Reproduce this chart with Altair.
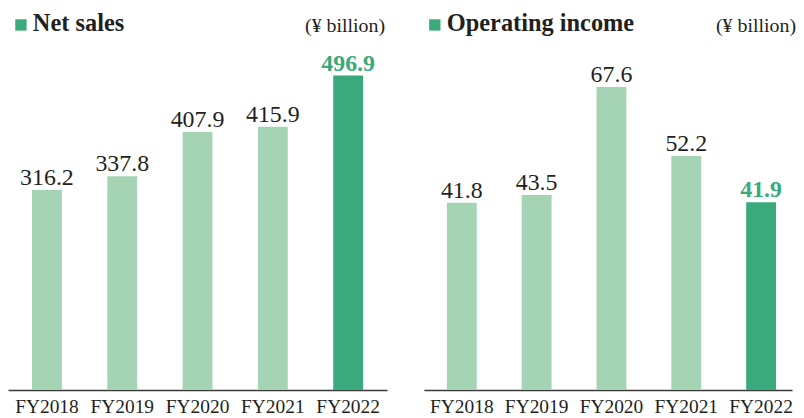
import altair as alt
import pandas as pd

years = ["FY2018", "FY2019", "FY2020", "FY2021", "FY2022"]
net_sales = [316.2, 337.8, 407.9, 415.9, 496.9]
operating_income = [41.8, 43.5, 67.6, 52.2, 41.9]

LIGHT = "#a4d4b4"
DARK = "#3aa97b"
TEXT = "#231f20"
SERIF = "Liberation Serif"
H = 383


def panel(values, title, ymax, width, title_x, unit_x, pad_outer, align):
    df = pd.DataFrame({"year": years, "value": values})
    df["label"] = [f"{v:.1f}" for v in values]
    xscale = alt.Scale(paddingInner=0.6, paddingOuter=pad_outer, align=align)
    x = alt.X("year:N", sort=years, scale=xscale,
              axis=alt.Axis(title=None, ticks=False, labelAngle=0, labelFont=SERIF,
                            labelFontSize=19.5, labelColor=TEXT, labelPadding=8,
                            domainColor="#3a3a3a", domainWidth=1.5, grid=False))
    y = alt.Y("value:Q", scale=alt.Scale(domain=[0, ymax], nice=False, zero=True), axis=None)
    base = alt.Chart(df).encode(x=x, y=y)
    bars = base.mark_bar(size=30).encode(
        color=alt.condition(alt.datum.year == "FY2022", alt.value(DARK), alt.value(LIGHT))
    )
    labels = base.transform_filter(alt.datum.year != "FY2022").mark_text(
        font=SERIF, fontSize=24, color=TEXT, baseline="alphabetic", dy=-5
    ).encode(text="label:N")
    latest = base.transform_filter(alt.datum.year == "FY2022").mark_text(
        font=SERIF, fontSize=24, fontWeight="bold", color=DARK, baseline="alphabetic", dy=-5
    ).encode(text="label:N")
    square = alt.Chart(pd.DataFrame({"k": [0]})).mark_square(
        size=130, color=DARK, opacity=1, filled=True
    ).encode(x=alt.value(title_x - 12), y=alt.value(16))
    ttl = alt.Chart(pd.DataFrame({"t": [title]})).mark_text(
        font=SERIF, fontSize=24.5, fontWeight="bold", color=TEXT, align="left", baseline="alphabetic"
    ).encode(x=alt.value(title_x), y=alt.value(22), text="t:N")
    unit = alt.Chart(pd.DataFrame({"t": ["(¥ billion)"]})).mark_text(
        font=SERIF, fontSize=20, color=TEXT, align="right", baseline="alphabetic"
    ).encode(x=alt.value(unit_x), y=alt.value(23), text="t:N")
    return alt.layer(bars, labels, latest, square, ttl, unit).properties(width=width, height=H)


left = panel(net_sales, "Net sales", 602, 381, 25, 379, 0.317, 0.5)
right = panel(operating_income, "Operating income", 85.0, 370, 23, 374, 0.26, 0.59)

chart = alt.hconcat(left, right, spacing=37).properties(padding=0).configure(
    background="white"
).configure_view(stroke=None)

chart.save("out.html", embed_options={"renderer": "svg", "actions": False})
